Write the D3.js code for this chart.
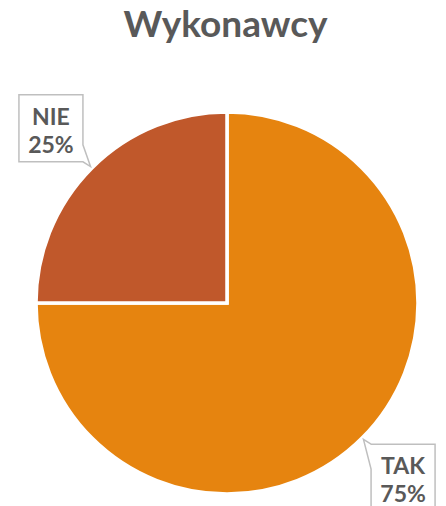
<!DOCTYPE html>
<html>
<head>
<meta charset="utf-8">
<script src="https://cdn.jsdelivr.net/npm/d3@7"></script>
<style>
  html, body { margin: 0; padding: 0; background: #fff; }
  svg { display: block; font-family: Lato, sans-serif; }
</style>
</head>
<body>
<div id="chart"></div>
<script>
const title = "Wykonawcy"
const categories = ["TAK", "NIE"]
const values = [75, 25]
const colors = ["#E6840F", "#C0582B"]

const width = 446, height = 506
const cx = 227, cy = 303, radius = 191
const textColor = "#595959"

const svg = d3.select("#chart")
    .append("svg")
    .attr("width", width)
    .attr("height", height)

svg.append("text")
    .attr("x", 225.5)
    .attr("y", 37)
    .attr("text-anchor", "middle")
    .attr("font-size", 37)
    .attr("font-weight", 700)
    .attr("fill", textColor)
    .text(title)

const data = categories.map((c, i) => ({ name: c, value: values[i], color: colors[i] }))

const pie = d3.pie().sort(null).value(d => d.value).startAngle(0).endAngle(2 * Math.PI)
const arcs = pie(data)
const arc = d3.arc().innerRadius(0).outerRadius(radius)

const g = svg.append("g").attr("transform", `translate(${cx},${cy})`)

g.selectAll("path.slice")
    .data(arcs)
    .enter()
    .append("path")
    .attr("class", "slice")
    .attr("d", arc)
    .attr("fill", d => d.data.color)
    .attr("stroke", "#fff")
    .attr("stroke-width", 3.5)
    .attr("stroke-linejoin", "miter")

// callout labels
const boxW = 64, boxH = 67
const fmt = d3.format(".0%")
const total = d3.sum(values)

arcs.forEach(d => {
    const mid = (d.startAngle + d.endAngle) / 2
    const ux = Math.sin(mid), uy = -Math.cos(mid)
    const tip = [ux * (radius + 2), uy * (radius + 2)]
    const bc = [tip[0] + ux * 56, tip[1] + uy * 54]
    const x0 = bc[0] - boxW / 2, x1 = bc[0] + boxW / 2
    const y0 = bc[1] - boxH / 2, y1 = bc[1] + boxH / 2

    // wedge sits on the box corner nearest the pie
    let path
    if (ux < 0 && uy < 0) {
        path = `M${x0},${y0}H${x1}V${y1 - 17}L${tip[0]},${tip[1]}L${x1},${y1}H${x0}Z`
    } else if (ux > 0 && uy > 0) {
        path = `M${x0},${y0}L${tip[0]},${tip[1]}L${x0},${y0 + 25}V${y1}H${x1}V${y0}Z`
    } else if (ux > 0 && uy < 0) {
        path = `M${x0},${y0}H${x1}V${y1}H${x0 + 17}L${tip[0]},${tip[1]}L${x0},${y1}Z`
    } else {
        path = `M${x0},${y0}H${x1 - 17}L${tip[0]},${tip[1]}L${x1},${y0}V${y1}H${x0}Z`
    }

    const lg = g.append("g")
    lg.append("path")
        .attr("d", path)
        .attr("fill", "#fff")
        .attr("stroke", "#BFBFBF")
        .attr("stroke-width", 1.5)

    const t = lg.append("text")
        .attr("text-anchor", "middle")
        .attr("font-size", 23)
        .attr("font-weight", 700)
        .attr("fill", textColor)
    t.append("tspan").attr("x", bc[0]).attr("y", y0 + 30).text(d.data.name)
    t.append("tspan").attr("x", bc[0]).attr("y", y0 + 58).text(fmt(d.data.value / total))
})
</script>
</body>
</html>
